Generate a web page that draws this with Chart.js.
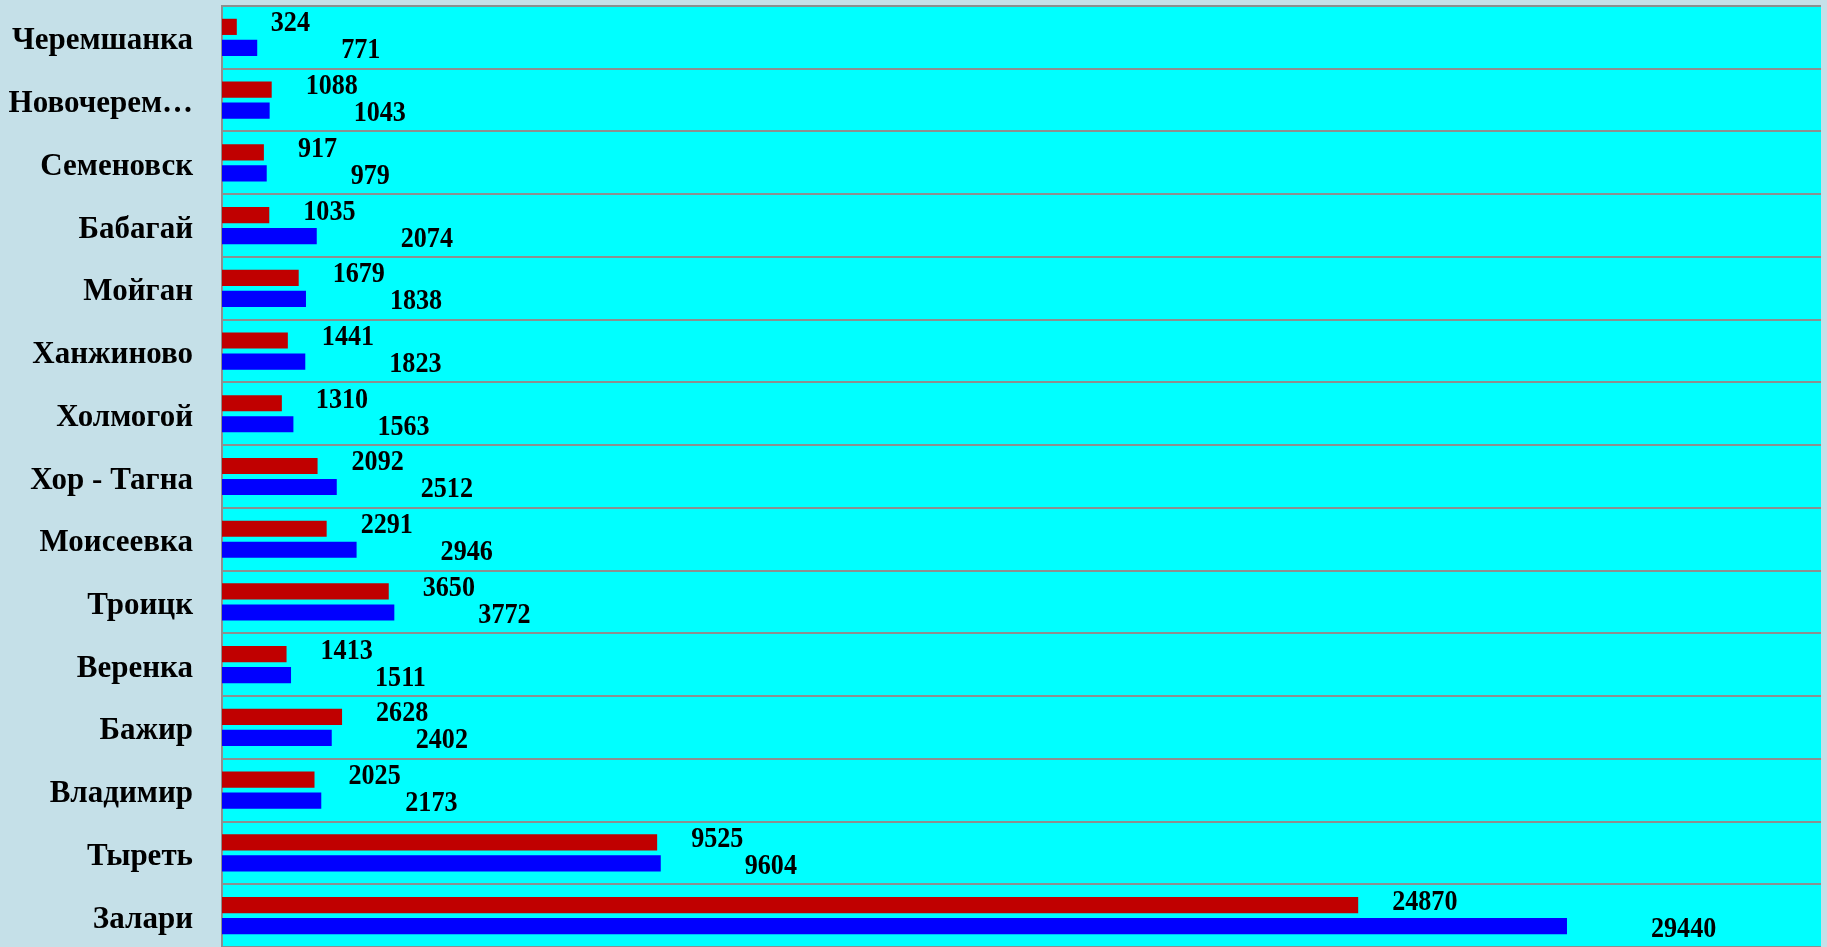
<!DOCTYPE html>
<html lang="ru">
<head>
<meta charset="utf-8">
<title>Население</title>
<script src="https://cdn.jsdelivr.net/npm/chart.js@4.4.1/dist/chart.umd.min.js"></script>
<style>
    html, body { margin: 0; padding: 0; background: #c5e0e8; overflow: hidden; }
    #wrap { width: 1827px; height: 947px; }
</style>
</head>
<body>
<div id="wrap"><canvas id="grafica"></canvas></div>
<script>
const poselki = [
    "Черемшанка", "Новочерем…", "Семеновск", "Бабагай", "Мойган",
    "Ханжиново", "Холмогой", "Хор - Тагна", "Моисеевка", "Троицк",
    "Веренка", "Бажир", "Владимир", "Тыреть", "Залари",
];
const serieRoja = [324, 1088, 917, 1035, 1679, 1441, 1310, 2092, 2291, 3650, 1413, 2628, 2025, 9525, 24870];
const serieAzul = [771, 1043, 979, 2074, 1838, 1823, 1563, 2512, 2946, 3772, 1511, 2402, 2173, 9604, 29440];
const ejeMax = 35000;

// fondo cian solo dentro del área de la gráfica
const fondoArea = {
    id: "fondoArea",
    beforeDraw(chart) {
        const { ctx, chartArea: a } = chart;
        ctx.save();
        ctx.fillStyle = "#00ffff";
        ctx.fillRect(a.left, a.top, a.right - a.left, a.bottom - a.top);
        ctx.restore();
    },
};

// etiquetas de valores a la derecha de cada barra (letra algo estrecha)
const etiquetas = {
    id: "etiquetas",
    afterDatasetsDraw(chart) {
        const ctx = chart.ctx;
        const estrecho = 0.9;
        ctx.save();
        ctx.font = "bold 29px 'Liberation Serif', 'Times New Roman', serif";
        ctx.fillStyle = "#000";
        ctx.textAlign = "left";
        ctx.textBaseline = "middle";
        ctx.scale(estrecho, 1);
        chart.data.datasets.forEach((ds, i) => {
            const meta = chart.getDatasetMeta(i);
            const dx = i === 0 ? 34 : 84;
            const dy = i === 0 ? -3 : 3;
            meta.data.forEach((bar, j) => {
                ctx.fillText(String(ds.data[j]), (bar.x + dx) / estrecho, bar.y + dy);
            });
        });
        ctx.restore();
    },
};

function dibujarGrafica() {
    const ctx = document.getElementById("grafica").getContext("2d");
    new Chart(ctx, {
        type: "bar",
        data: {
            labels: poselki,
            datasets: [
                {
                    label: "Серия 1",
                    data: serieRoja,
                    backgroundColor: "#c00000",
                    borderWidth: 0,
                },
                {
                    label: "Серия 2",
                    data: serieAzul,
                    backgroundColor: "#0000ff",
                    borderWidth: 0,
                },
            ],
        },
        options: {
            indexAxis: "y",
            responsive: true,
            maintainAspectRatio: false,
            animation: false,
            datasets: {
                bar: { categoryPercentage: 0.67, barPercentage: 0.77 },
            },
            layout: { padding: { top: 6, right: 6, bottom: 0, left: 0 } },
            plugins: {
                legend: { display: false },
                tooltip: { enabled: false },
            },
            scales: {
                x: {
                    display: false,
                    min: 0,
                    max: ejeMax,
                },
                y: {
                    afterFit(scale) {
                        scale.width = 222;
                        scale.paddingTop = 0; // sin margen extra arriba/abajo
                        scale.paddingBottom = 0;
                    },
                    grid: {
                        color: "#8a9090",
                        lineWidth: 2,
                        drawTicks: false,
                        offset: true,
                    },
                    border: { display: true, color: "#8a9090", width: 2 },
                    ticks: {
                        color: "#000",
                        padding: 29,
                        labelOffset: 4,
                        autoSkip: false,
                        font: {
                            family: "'Liberation Serif', 'Times New Roman', serif",
                            size: 31,
                            weight: "bold",
                        },
                    },
                },
            },
        },
        plugins: [fondoArea, etiquetas],
    });
}

dibujarGrafica();
</script>
</body>
</html>
